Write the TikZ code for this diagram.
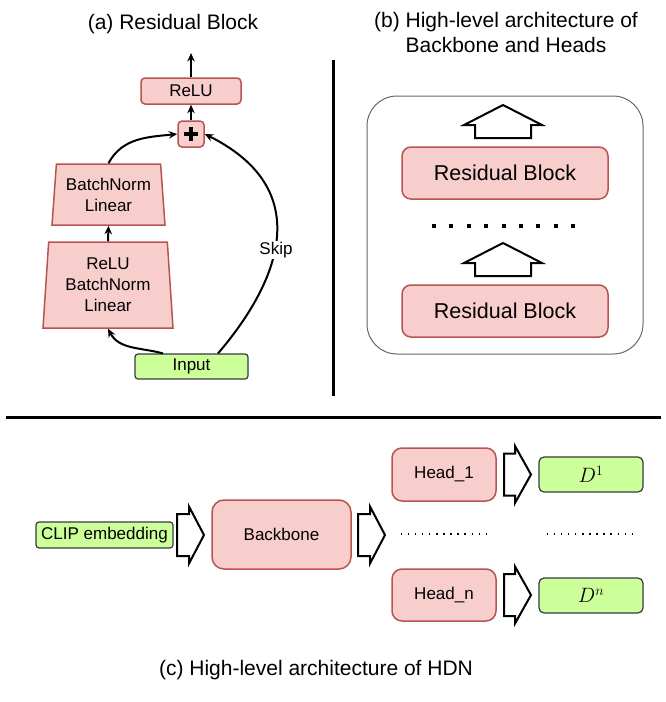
\documentclass[tikz,border=0pt]{standalone}
\usepackage{fontspec}
\setmainfont{Liberation Sans}
\usetikzlibrary{shapes.geometric,arrows.meta}
\definecolor{pinkfill}{HTML}{F8CECC}
\definecolor{pinkdraw}{HTML}{B85450}
\definecolor{greenfill}{HTML}{CCFF99}
\definecolor{greendraw}{HTML}{36393D}
\newcommand{\rblockarrow}[4]{%
  \draw[blockarrow] (#1,#4+21) -- (#2,#4+21) -- (#2,#4+28.5) -- (#3,#4) -- (#2,#4-28.5) -- (#2,#4-21) -- (#1,#4-21) -- cycle;}
\newcommand{\ublockarrow}[2]{%
  \draw[blockarrow] (#1,#2) -- (#1+39,#2-20) -- (#1+28,#2-20) -- (#1+28,#2-33) -- (#1-28,#2-33) -- (#1-28,#2-20) -- (#1-39,#2-20) -- cycle;}
\begin{document}
\begin{tikzpicture}[x=1pt,y=1pt,
  pinkbox/.style={draw=pinkdraw, fill=pinkfill, line width=1.5pt, rounded corners=#1, inner sep=0pt},
  pinkbox/.default=4pt,
  greenbox/.style={draw=greendraw, fill=greenfill, line width=1.2pt, rounded corners=#1, inner sep=0pt},
  greenbox/.default=3pt,
  trapbox/.style={trapezium, draw=pinkdraw, fill=pinkfill, line width=1.5pt, trapezium stretches body, inner sep=0pt, align=center},
  arr/.style={line width=2pt, -{Stealth[length=8.5pt,width=7.5pt]}},
  blockarrow/.style={draw=black, fill=white, line width=2pt},
  boxtxt/.style={font=\fontsize{17}{21}\selectfont},
  bigtxt/.style={font=\fontsize{21.5}{25}\selectfont},
  mathtxt/.style={font=\fontsize{22.5}{26}\selectfont},
  title/.style={font=\fontsize{21}{25}\selectfont, align=center},
]
\useasboundingbox (0,0) rectangle (665,-702);

% ---------- (a) Residual Block ----------
\node[title] (ta) at (173,-24) {(a) Residual Block};
\node[pinkbox, boxtxt, minimum width=100pt, minimum height=26pt] (relu) at (191,-91) {ReLU};
\node[pinkbox=4pt, minimum width=26pt, minimum height=26pt,
  path picture={\draw[black, line width=3.8pt] ([yshift=-6pt]path picture bounding box.north) -- ([yshift=6pt]path picture bounding box.south);
                \draw[black, line width=3.8pt] ([xshift=6pt]path picture bounding box.west) -- ([xshift=-6pt]path picture bounding box.east);}] (plus) at (191,-134) {};
\node[trapbox, boxtxt, trapezium left angle=82.5, trapezium right angle=82.5, minimum width=113pt, minimum height=61pt] (bn) at (108.5,-194.5) {BatchNorm\\Linear};
\node[trapbox, boxtxt, trapezium left angle=84, trapezium right angle=84, minimum width=130pt, minimum height=86pt] (rbl) at (108,-285) {ReLU\\BatchNorm\\Linear};
\node[greenbox, boxtxt, minimum width=113pt, minimum height=25pt] (input) at (191.5,-366.5) {Input};
\coordinate (outp) at (191,-53);

\draw[arr] (relu.north) -- (outp);
\draw[arr] (plus.north) -- (relu.south);
\draw[arr] (rbl.north) -- (bn.south);
\draw[arr] ([xshift=-28.5pt]input.north) to[out=165,in=-62] (rbl.south);
\draw[arr] (bn.north) to[out=62,in=186] (plus.west);
\draw[arr] ([xshift=26.5pt]input.north) .. controls +(43,50) and +(126,-63) .. (plus.east);
\node[boxtxt, fill=white, inner sep=1.5pt] (skip) at (276,-250) {Skip};

% ---------- separators ----------
\coordinate (vtop) at (333,-60);
\coordinate (vbot) at (333,-396);
\draw[line width=3pt] (vtop) -- (vbot);
\coordinate (hl) at (6,-417);
\coordinate (hr) at (661,-417);
\draw[line width=3pt] (hl) -- (hr);

% ---------- (b) ----------
\node[title] (tb) at (506,-32) {(b) High-level architecture of\\Backbone and Heads};
\node[draw=black!60, line width=1pt, rounded corners=30pt, minimum width=276pt, minimum height=258pt, inner sep=0pt] (frame) at (505,-225) {};
\node[pinkbox=9pt, bigtxt, minimum width=206pt, minimum height=52pt] (rb1) at (505,-173) {Residual Block};
\node[pinkbox=9pt, bigtxt, minimum width=206pt, minimum height=52pt] (rb2) at (505,-311) {Residual Block};
\ublockarrow{503}{-105}
\ublockarrow{503}{-243}
\draw[line width=4pt, dash pattern=on 4pt off 13.4pt] (432,-226) -- (576,-226);

% ---------- (c) ----------
\node[greenbox, boxtxt, minimum width=137pt, minimum height=26pt] (clip) at (104.5,-535) {CLIP embedding};
\node[pinkbox=12pt, boxtxt, minimum width=139pt, minimum height=69pt] (backbone) at (281.5,-534.5) {Backbone};
\node[pinkbox=10pt, boxtxt, minimum width=104pt, minimum height=53pt] (head1) at (444,-474.5) {Head\_1};
\node[pinkbox=10pt, boxtxt, minimum width=104pt, minimum height=52pt] (headn) at (444,-595) {Head\_n};
\node[greenbox=5pt, mathtxt, minimum width=104pt, minimum height=35pt] (d1) at (591,-474.5) {$D^1$};
\node[greenbox=5pt, mathtxt, minimum width=104pt, minimum height=35pt] (dn) at (591,-595.5) {$D^n$};
\rblockarrow{177}{189}{204}{-535}
\rblockarrow{358}{370}{385}{-535}
\rblockarrow{504}{515}{531}{-474.5}
\rblockarrow{504}{515}{531}{-595}
\draw[line width=1.5pt, dash pattern=on 1.5pt off 5.6pt] (400.5,-534) -- (487,-534);
\draw[line width=1.5pt, dash pattern=on 1.5pt off 5.6pt] (546.5,-534) -- (633,-534);
\node[title] (tc) at (316,-670) {(c) High-level architecture of HDN};
\end{tikzpicture}
\end{document}
